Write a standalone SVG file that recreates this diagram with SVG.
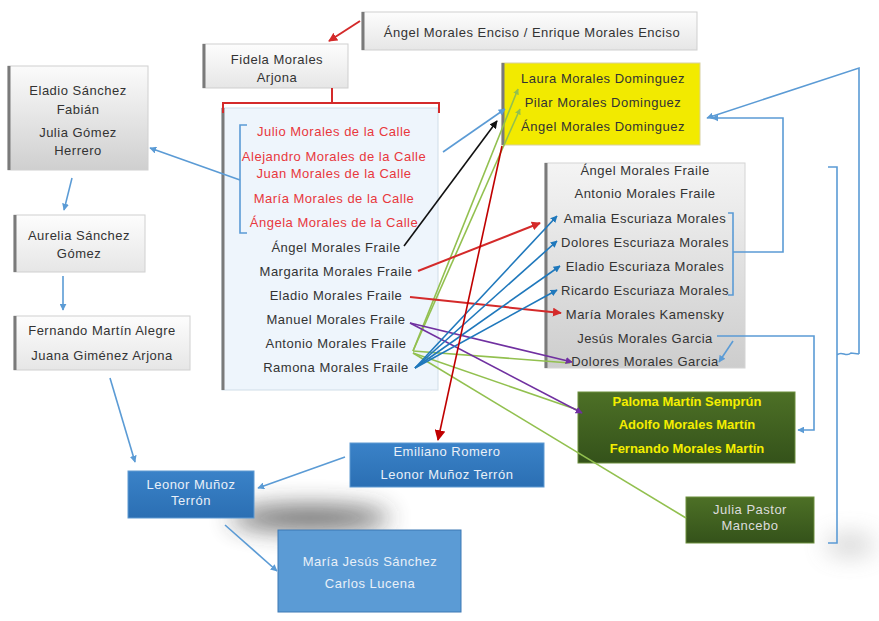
<svg xmlns="http://www.w3.org/2000/svg" width="879" height="621" viewBox="0 0 879 621">
<defs>
<style>
text{font-family:"Liberation Sans",Arial,sans-serif;font-size:13px;text-anchor:middle;letter-spacing:0.5px}
.dk{fill:#333}
.rd{fill:#e8383d}
.yl{fill:#f4ee00;font-weight:bold;letter-spacing:0}
.wt{fill:#e9f0f8}
.edge{stroke:#7a7a7a;stroke-width:3;fill:none}
.c{fill:none;stroke-width:1.6}
.lb{stroke:#5b9bd5}
.bl{stroke:#1f78bc}
.red{stroke:#d42a2a;stroke-width:2}
.pu{stroke:#7030a0}
.gr{stroke:#92c04f}
.bk{stroke:#111}
</style>
<linearGradient id="gGray" x1="0" y1="0" x2="0" y2="1"><stop offset="0" stop-color="#fbfbfb"/><stop offset="1" stop-color="#cfcfcf"/></linearGradient>
<linearGradient id="gLight" x1="0" y1="0" x2="0" y2="1"><stop offset="0" stop-color="#fdfdfd"/><stop offset="1" stop-color="#e6e6e6"/></linearGradient>
<linearGradient id="gRight" x1="0" y1="0" x2="0" y2="1"><stop offset="0" stop-color="#f4f4f4"/><stop offset="1" stop-color="#cdcdcd"/></linearGradient>
<linearGradient id="gGreen" x1="0" y1="0" x2="0" y2="1"><stop offset="0" stop-color="#4d7026"/><stop offset="1" stop-color="#34521a"/></linearGradient>
<linearGradient id="gBlue" x1="0" y1="0" x2="0" y2="1"><stop offset="0" stop-color="#3a82c8"/><stop offset="1" stop-color="#2b6fb3"/></linearGradient>
<filter id="blur" filterUnits="userSpaceOnUse" x="0" y="400" width="879" height="221"><feGaussianBlur stdDeviation="12"/></filter>
<marker id="aRed" viewBox="0 0 10 10" refX="9" refY="5" markerWidth="9" markerHeight="9" markerUnits="userSpaceOnUse" orient="auto"><path d="M0,0L10,5L0,10z" fill="#d42a2a"/></marker>
<marker id="aRedT" viewBox="0 0 10 10" refX="9" refY="5" markerWidth="11" markerHeight="11" markerUnits="userSpaceOnUse" orient="auto"><path d="M0,0L10,5L0,10z" fill="#c00000"/></marker>
<marker id="aLb" viewBox="0 0 10 10" refX="9" refY="5" markerWidth="7" markerHeight="7" markerUnits="userSpaceOnUse" orient="auto"><path d="M0,0L10,5L0,10z" fill="#5b9bd5"/></marker>
<marker id="aBl" viewBox="0 0 10 10" refX="9" refY="5" markerWidth="7" markerHeight="7" markerUnits="userSpaceOnUse" orient="auto"><path d="M0,0L10,5L0,10z" fill="#1f78bc"/></marker>
<marker id="aBk" viewBox="0 0 10 10" refX="9" refY="5" markerWidth="8" markerHeight="8" markerUnits="userSpaceOnUse" orient="auto"><path d="M0,0L10,5L0,10z" fill="#111"/></marker>
<marker id="aPu" viewBox="0 0 10 10" refX="9" refY="5" markerWidth="7" markerHeight="7" markerUnits="userSpaceOnUse" orient="auto"><path d="M0,0L10,5L0,10z" fill="#7030a0"/></marker>
<marker id="aGr" viewBox="0 0 10 10" refX="9" refY="5" markerWidth="6" markerHeight="6" markerUnits="userSpaceOnUse" orient="auto"><path d="M0,0L10,5L0,10z" fill="#92c04f"/></marker>
</defs>
<rect width="879" height="621" fill="#ffffff"/>
<ellipse cx="310" cy="518" rx="80" ry="12" fill="#333" opacity="0.75" filter="url(#blur)"/>
<ellipse cx="850" cy="545" rx="25" ry="10" fill="#888" opacity="0.4" filter="url(#blur)"/>

<g id="n-enciso">
<rect x="362" y="12" width="335" height="38" fill="url(#gLight)" stroke="#cfcfcf"/>
<path class="edge" d="M363,12V50"/>
<text class="dk" x="532" y="37">Ángel  Morales  Enciso / Enrique Morales Enciso</text>
</g>

<g id="n-fidela">
<rect x="203" y="44" width="145" height="44" fill="url(#gLight)" stroke="#cfcfcf"/>
<path class="edge" d="M204,44V88"/>
<text class="dk" x="277" y="64">Fidela Morales</text>
<text class="dk" x="277" y="82">Arjona</text>
</g>

<g id="n-hijos">
<rect x="222" y="108" width="216" height="282" fill="#eef5fc" stroke="#d0dde8"/>
<path class="edge" d="M223,108V390"/>
<text class="rd" x="334" y="136">Julio Morales de la Calle</text>
<text class="rd" x="334" y="161" letter-spacing="0.2">Alejandro  Morales de la Calle</text>
<text class="rd" x="334" y="178">Juan Morales de la Calle</text>
<text class="rd" x="334" y="203">María Morales de la Calle</text>
<text class="rd" x="334" y="227">Ángela Morales de la Calle</text>
<text class="dk" x="336" y="252">Ángel Morales Fraile</text>
<text class="dk" x="336" y="276">Margarita Morales Fraile</text>
<text class="dk" x="336" y="300">Eladio Morales Fraile</text>
<text class="dk" x="336" y="324">Manuel Morales Fraile</text>
<text class="dk" x="336" y="348">Antonio Morales Fraile</text>
<text class="dk" x="336" y="372">Ramona Morales Fraile</text>
</g>

<g id="n-eladio">
<rect x="8" y="66" width="140" height="104" fill="url(#gGray)" stroke="#d0d0d0"/>
<path class="edge" d="M9,66V170"/>
<text class="dk" x="78" y="95">Eladio Sánchez</text>
<text class="dk" x="78" y="114">Fabián</text>
<text class="dk" x="78" y="137">Julia Gómez</text>
<text class="dk" x="78" y="155">Herrero</text>
</g>

<g id="n-aurelia">
<rect x="14" y="215" width="131" height="57" fill="url(#gLight)" stroke="#d0d0d0"/>
<path class="edge" d="M15,215V272"/>
<text class="dk" x="79" y="240">Aurelia Sánchez</text>
<text class="dk" x="79" y="258">Gómez</text>
</g>

<g id="n-fernando">
<rect x="14" y="316" width="176" height="54" fill="url(#gLight)" stroke="#d0d0d0"/>
<path class="edge" d="M15,316V370"/>
<text class="dk" x="102" y="335">Fernando Martín Alegre</text>
<text class="dk" x="102" y="360">Juana Giménez Arjona</text>
</g>

<g id="n-leonor">
<rect x="128" y="471" width="126" height="47" fill="url(#gBlue)" stroke="#5f9ad2"/>
<text class="wt" x="191" y="489">Leonor Muñoz</text>
<text class="wt" x="191" y="505">Terrón</text>
</g>

<g id="n-emiliano">
<rect x="350" y="443" width="194" height="44" fill="url(#gBlue)" stroke="#5f9ad2"/>
<text class="wt" x="447" y="456">Emiliano  Romero</text>
<text class="wt" x="447" y="479">Leonor Muñoz Terrón</text>
</g>

<g id="n-mariajesus">
<rect x="278" y="530" width="183" height="82" fill="#5b9bd5" stroke="#3c78b4"/>
<text class="wt" x="370" y="566">María Jesús  Sánchez</text>
<text class="wt" x="370" y="588">Carlos  Lucena</text>
</g>

<g id="n-dominguez">
<rect x="502" y="63" width="198" height="82" fill="#f2ea00" stroke="#d8d0a0"/>
<path class="edge" d="M503,63V145"/>
<text class="dk" x="603" y="83">Laura Morales Dominguez</text>
<text class="dk" x="603" y="107">Pilar Morales Dominguez</text>
<text class="dk" x="603" y="131">Ángel Morales Dominguez</text>
</g>

<g id="n-fraile">
<rect x="545" y="163" width="200" height="205" fill="url(#gRight)" stroke="#d4d4d4"/>
<path class="edge" d="M546,163V368"/>
<text class="dk" x="645" y="175">Ángel Morales Fraile</text>
<text class="dk" x="645" y="198">Antonio Morales Fraile</text>
<text class="dk" x="645" y="223">Amalia Escuriaza Morales</text>
<text class="dk" x="645" y="247">Dolores Escuriaza Morales</text>
<text class="dk" x="645" y="271">Eladio Escuriaza Morales</text>
<text class="dk" x="645" y="295">Ricardo Escuriaza Morales</text>
<text class="dk" x="645" y="319">María Morales Kamensky</text>
<text class="dk" x="645" y="343">Jesús Morales Garcia</text>
<text class="dk" x="645" y="366">Dolores Morales Garcia</text>
</g>

<g id="n-paloma">
<rect x="578" y="392" width="217" height="71" fill="url(#gGreen)" stroke="#6c8f3c"/>
<text class="yl" x="687" y="406">Paloma Martín Semprún</text>
<text class="yl" x="687" y="429">Adolfo Morales Martín</text>
<text class="yl" x="687" y="453">Fernando Morales Martín</text>
</g>

<g id="n-julia">
<rect x="686" y="497" width="128" height="46" fill="url(#gGreen)" stroke="#6c8f3c"/>
<text x="750" y="514" fill="#dcdcdc">Julia Pastor</text>
<text x="750" y="530" fill="#dcdcdc">Mancebo</text>
</g>

<g id="connectors">
<path class="c red" d="M360,21L329,41" marker-end="url(#aRed)"/>
<path class="c red" stroke-width="2.5" d="M332,88V103M223,113V103H439V113"/>
<path class="c lb" d="M247,125H240V233H247"/>
<path class="c lb" d="M240,180L150,148" marker-end="url(#aLb)"/>
<path class="c lb" d="M72,178L64,210" marker-end="url(#aLb)"/>
<path class="c lb" d="M63,276V310" marker-end="url(#aLb)"/>
<path class="c lb" d="M110,378L135,462" marker-end="url(#aLb)"/>
<path class="c lb" d="M345,457L258,488" marker-end="url(#aLb)"/>
<path class="c lb" d="M225,525L277,571" marker-end="url(#aLb)"/>
<path class="c lb" d="M443,152L505,109" marker-end="url(#aLb)"/>
<path class="c bk" d="M404,246L497,121" marker-end="url(#aBk)"/>
<path class="c gr" d="M413,351L518,89" marker-end="url(#aGr)"/>
<path class="c gr" d="M413,351L520,109" marker-end="url(#aGr)"/>
<path class="c gr" d="M413,351L570,363"/>
<path class="c gr" d="M413,353L578,410"/>
<path class="c gr" d="M413,353L686,518"/>
<path class="c red" d="M418,271L540,223" marker-end="url(#aRed)"/>
<path class="c red" d="M410,297L561,313" marker-end="url(#aRed)"/>
<path class="c pu" d="M410,323L572,362" marker-end="url(#aPu)"/>
<path class="c pu" d="M410,323L582,413" marker-end="url(#aPu)"/>
<path class="c bl" d="M415,368L557,216" marker-end="url(#aBl)"/>
<path class="c bl" d="M415,368L557,241" marker-end="url(#aBl)"/>
<path class="c bl" d="M415,368L560,266" marker-end="url(#aBl)"/>
<path class="c bl" d="M415,368L557,290" marker-end="url(#aBl)"/>
<path class="c" stroke="#c00000" stroke-width="3" d="M502,146L438,440" marker-end="url(#aRedT)"/>
<path class="c lb" d="M728,213H733V295H728"/>
<path class="c lb" d="M733,252H783V118H712" marker-end="url(#aLb)"/>
<path class="c lb" d="M717,336H814V430H798" marker-end="url(#aLb)"/>
<path class="c lb" d="M733,341L719,362" marker-end="url(#aLb)"/>
<path class="c lb" d="M828,167H837V543H828M837,355C842,350 846,358 851,353L859,354"/>
<path class="c lb" d="M859,354V68L707,118" marker-end="url(#aLb)"/>
</g>
</svg>
